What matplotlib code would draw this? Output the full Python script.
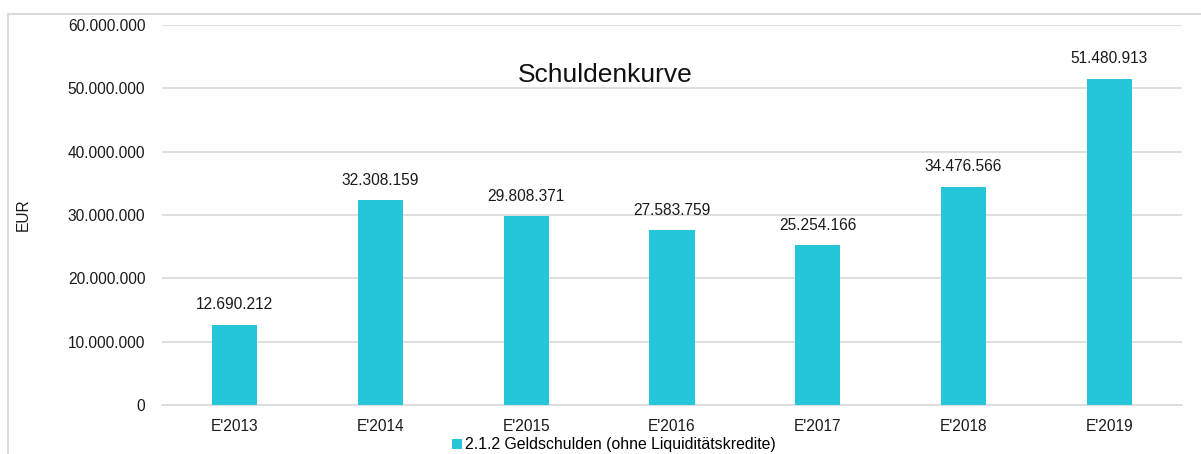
import matplotlib.pyplot as plt
from matplotlib.lines import Line2D
from matplotlib.ticker import FuncFormatter

plt.rcParams['font.family'] = ['Liberation Sans', 'DejaVu Sans']

# data
years = ["E'2013", "E'2014", "E'2015", "E'2016", "E'2017", "E'2018", "E'2019"]
schulden = [12690212, 32308159, 29808371, 27583759, 25254166, 34476566, 51480913]
series_name = '2.1.2 Geldschulden (ohne Liquiditätskredite)'

color = '#26C6DA'
grid_color = '#d9d9d9'


def dots(v, pos=None):
    return f'{int(round(v)):,}'.replace(',', '.')


fig = plt.figure(figsize=(12.01, 4.54), dpi=100)
ax = fig.add_axes([162 / 1201, 1 - 405 / 454, 1020 / 1201, 380 / 454])

x = range(len(years))
bars = ax.bar(x, schulden, width=0.31, color=color, label=series_name, zorder=3)

for xi, v in zip(x, schulden):
    ax.annotate(dots(v), (xi, v), xytext=(0, 9), textcoords='offset points',
                ha='center', va='bottom', fontsize=11.2, color='#1a1a1a')

ax.set_xlim(-0.5, len(years) - 0.5)
ax.set_ylim(0, 60000000)
ax.set_yticks(range(0, 60000001, 10000000))
ax.yaxis.set_major_formatter(FuncFormatter(dots))
ax.set_xticks(list(x))
ax.set_xticklabels(years)
ax.tick_params(axis='both', length=0, labelsize=11.2, labelcolor='#1a1a1a')
ax.tick_params(axis='y', pad=12)
ax.tick_params(axis='x', pad=10)
ax.grid(axis='y', color=grid_color, linewidth=1.2, zorder=0)
for s in ['top', 'right', 'left']:
    ax.spines[s].set_visible(False)
ax.spines['bottom'].set_color(grid_color)
ax.spines['bottom'].set_linewidth(1.2)

fig.text(23 / 1201, 1 - 215 / 454, 'EUR', rotation=90, ha='center', va='center',
         fontsize=11.2, color='#1a1a1a')
fig.text(605 / 1201, 1 - 75 / 454, 'Schuldenkurve', ha='center', va='center',
         fontsize=19, color='#111111')

fig.legend(handles=[bars], labels=[series_name], loc='center',
           bbox_to_anchor=(614 / 1201, 1 - 445 / 454), frameon=False, fontsize=11.4,
           handlelength=0.6, handleheight=0.6, handletextpad=0.2, borderpad=0)

# outer chart border (left and top)
fig.add_artist(Line2D([8 / 1201, 8 / 1201], [0, 1 - 14 / 454], color=grid_color, linewidth=1.5))
fig.add_artist(Line2D([8 / 1201, 1], [1 - 14 / 454, 1 - 14 / 454], color=grid_color, linewidth=1.5))

fig.savefig('out.png', dpi=100)
